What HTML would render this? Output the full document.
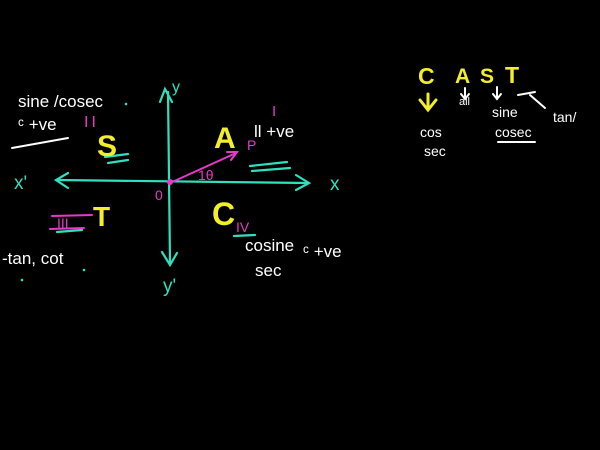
<!DOCTYPE html>
<html><head><style>
html,body{margin:0;padding:0;background:#000;width:600px;height:450px;overflow:hidden}
svg text{font-family:"Liberation Sans",sans-serif}
</style></head><body>
<svg width="600" height="450" viewBox="0 0 600 450" xmlns="http://www.w3.org/2000/svg">
<rect width="600" height="450" fill="#000"/>
<g stroke="#2fe0bf" stroke-width="2.2" fill="none" stroke-linecap="round">
<line x1="168" y1="92" x2="170" y2="262"/>
<polyline points="160,102 165,89 172,102"/>
<polyline points="162,252 170,265 177,253"/>
<line x1="57" y1="180" x2="308" y2="183"/>
<polyline points="68,173 56,180 68,188"/>
<polyline points="296,175 309,183 296,190"/>
<line x1="105" y1="157" x2="128" y2="154"/>
<line x1="108" y1="163" x2="128" y2="160"/>
<line x1="250" y1="166" x2="287" y2="162"/>
<line x1="252" y1="171" x2="290" y2="168"/>
<line x1="57" y1="232" x2="82" y2="230"/>
<line x1="234" y1="236" x2="255" y2="235"/>
</g>
<g fill="#2fe0bf" font-size="19">
<text x="14" y="189">x'</text>
<text x="330" y="190">x</text>
<text x="172" y="92" font-size="16">y</text>
<text x="163" y="292" font-size="19">y'</text>
</g>
<g stroke="#e838c8" stroke-width="2" fill="none" stroke-linecap="round">
<line x1="170" y1="183" x2="236" y2="153"/>
<polyline points="227,152 237,152 231,160"/>
<line x1="52" y1="216" x2="92" y2="215"/>
<line x1="50" y1="229" x2="84" y2="228"/>
</g>
<circle cx="170" cy="182" r="3" fill="#e838c8"/>
<g fill="#e838c8" font-size="14">
<text x="84" y="127" font-size="16" letter-spacing="3">II</text>
<text x="57" y="228">III</text>
<text x="236" y="232">IV</text>
<text x="272" y="116" font-size="15">I</text>
<text x="198" y="180">1θ</text>
<text x="155" y="200">0</text>
<text x="247" y="150">P</text>
</g>
<g fill="#f2ef2a" font-weight="bold">
<text x="97" y="156" font-size="30">S</text>
<text x="214" y="148" font-size="30">A</text>
<text x="93" y="226" font-size="28">T</text>
<text x="212" y="225" font-size="32">C</text>
<text x="418" y="84" font-size="23">C</text>
<text x="455" y="83" font-size="21">A</text>
<text x="480" y="83" font-size="21">S</text>
<text x="505" y="83" font-size="23">T</text>
</g>
<g stroke="#f2ef2a" stroke-width="3" fill="none" stroke-linecap="round">
<line x1="428" y1="94" x2="428" y2="108"/>
<polyline points="420,100 428,110 436,100"/>
</g>
<g fill="#fff" font-size="17">
<text x="18" y="107">sine /cosec</text>
<text x="18" y="130">ᶜ +ve</text>
<text x="254" y="137">ll +ve</text>
<text x="245" y="251">cosine</text>
<text x="255" y="276">sec</text>
<text x="303" y="257">ᶜ +ve</text>
<text x="2" y="264">-tan, cot</text>
<text x="420" y="137" font-size="14">cos</text>
<text x="424" y="156" font-size="14">sec</text>
<text x="459" y="105" font-size="11">all</text>
<text x="492" y="117" font-size="14">sine</text>
<text x="495" y="137" font-size="14">cosec</text>
<text x="553" y="122" font-size="14">tan/</text>
</g>
<g stroke="#fff" stroke-width="2" fill="none" stroke-linecap="round">
<line x1="12" y1="148" x2="68" y2="138"/>
<line x1="498" y1="142" x2="535" y2="142"/>
<line x1="465" y1="88" x2="465" y2="98"/>
<line x1="497" y1="87" x2="497" y2="98"/>
<polyline points="493,94 497,99 501,94"/>
<polyline points="461,94 465,99 469,94"/>
<line x1="518" y1="95" x2="535" y2="92"/>
<line x1="530" y1="95" x2="545" y2="108"/>
</g>
<g fill="#2fe0bf"><circle cx="126" cy="104" r="1.3"/><circle cx="84" cy="270" r="1.3"/><circle cx="22" cy="280" r="1.3"/></g>
</svg>
</body></html>
